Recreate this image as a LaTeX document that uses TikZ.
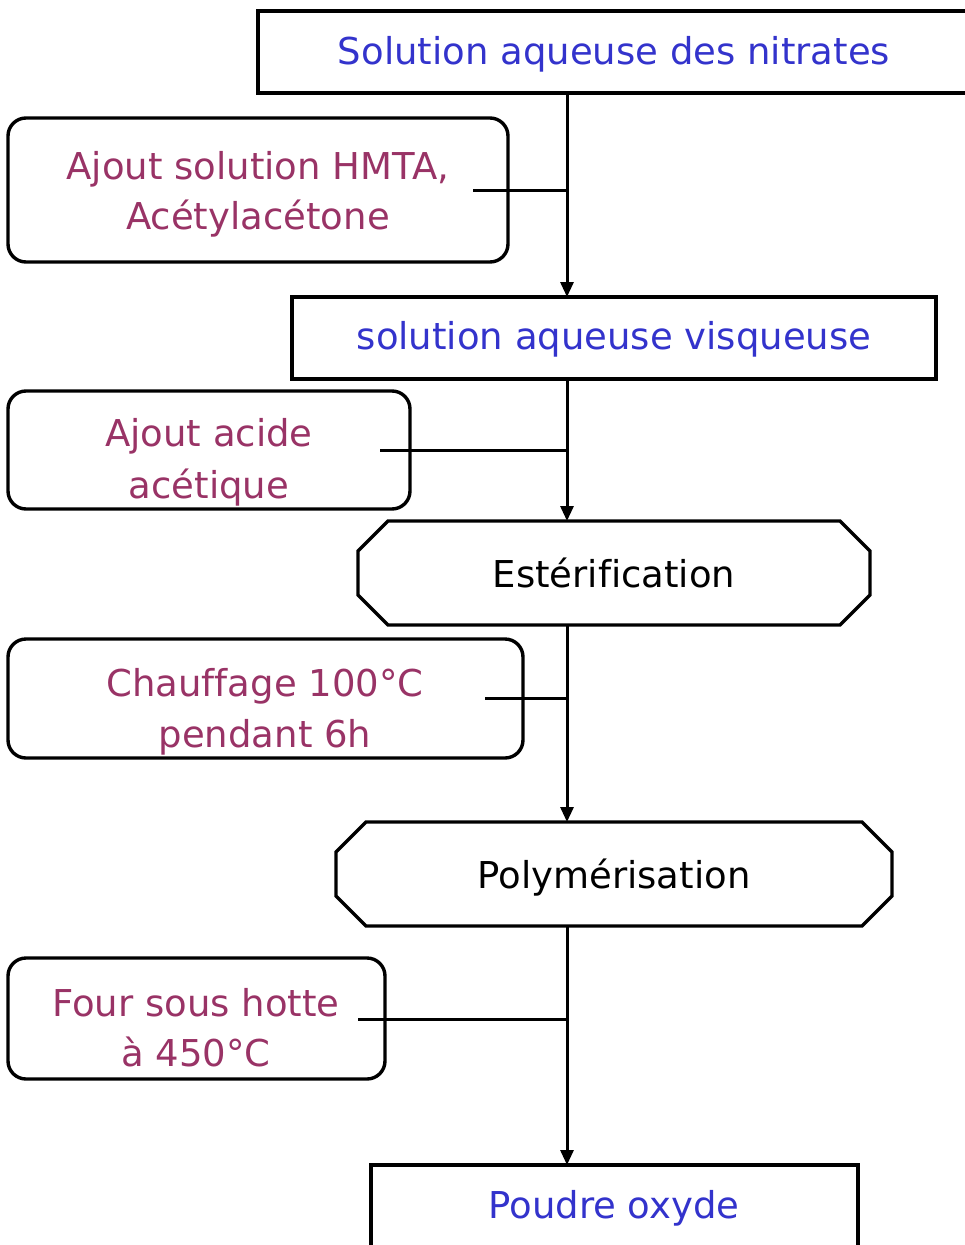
\documentclass[tikz,border=0pt]{standalone}
\usepackage{fontspec}
\setmainfont{DejaVu Sans}[Ligatures=NoCommon]
\usetikzlibrary{arrows.meta}
\definecolor{tblue}{HTML}{3333CC}
\definecolor{tmag}{HTML}{993366}
\begin{document}
\begin{tikzpicture}[x=1pt,y=-1pt,
  every node/.style={inner sep=0pt, outer sep=0pt},
  border/.style={line width=3.4pt, line join=miter},
  sqbox/.style={draw, border, rectangle},
  rbox/.style={draw, border, rectangle, rounded corners=18pt},
  shell/.style={rectangle, draw=none},
  conn/.style={line width=3pt},
  arr/.style={line width=3pt, -{Triangle[width=13pt,length=15pt]}},
  txt/.style={anchor=base, font=\fontsize{37}{44}\selectfont},
  bluetxt/.style={txt, text=tblue},
  magtxt/.style={txt, text=tmag},
  blktxt/.style={txt, text=black}
]
\useasboundingbox (0,0) rectangle (965,1245);
\clip (0,0) rectangle (965,1245);
\coordinate (axis) at (567,0);

% main boxes
\node[sqbox, minimum width=717pt, minimum height=82pt] (b1) at (616.5,52) {};
\node[sqbox, minimum width=644pt, minimum height=82pt] (b2) at (614,338) {};
\node[sqbox, minimum width=487pt, minimum height=100pt] (b3) at (614.5,1215) {};

% octagons
\node[shell, minimum width=512pt, minimum height=104pt] (o1) at (614,573) {};
\node[shell, minimum width=556pt, minimum height=104pt] (o2) at (614,874) {};
\foreach \o in {o1,o2}{
  \draw[border] ([xshift=30pt]\o.north west) -- ([xshift=-30pt]\o.north east)
    -- ([yshift=-30pt]\o.north east) -- ([yshift=30pt]\o.south east)
    -- ([xshift=-30pt]\o.south east) -- ([xshift=30pt]\o.south west)
    -- ([yshift=30pt]\o.south west) -- ([yshift=-30pt]\o.north west) -- cycle;
}

% side rounded boxes
\node[rbox, minimum width=500pt, minimum height=144pt] (r1) at (258,190) {};
\node[rbox, minimum width=402pt, minimum height=118pt] (r2) at (209,450) {};
\node[rbox, minimum width=515pt, minimum height=119pt] (r3) at (265.5,698.5) {};
\node[rbox, minimum width=377pt, minimum height=121pt] (r4) at (196.5,1018.5) {};

% texts
\node[bluetxt] (t1) at (614,64) {Solution aqueuse des nitrates};
\node[bluetxt] (t2) at (614,349) {solution aqueuse visqueuse};
\node[bluetxt] (t3) at (614,1218) {Poudre oxyde};
\node[blktxt] (t4) at (614,587) {Estérification};
\node[blktxt] (t5) at (614,888) {Polymérisation};
\node[magtxt] (s1a) at (258,179) {Ajout solution HMTA,};
\node[magtxt] (s1b) at (258,229) {Acétylacétone};
\node[magtxt] (s2a) at (209,446) {Ajout acide};
\node[magtxt] (s2b) at (209,498) {acétique};
\node[magtxt] (s3a) at (265,696) {Chauffage 100°C};
\node[magtxt] (s3b) at (265,747) {pendant 6h};
\node[magtxt] (s4a) at (196,1016) {Four sous hotte};
\node[magtxt] (s4b) at (196,1066) {à 450°C};

% connector start points
\coordinate (c1) at (473,190);
\coordinate (c2) at (380,450);
\coordinate (c3) at (485,698);
\coordinate (c4) at (358,1019);

% main flow
\draw[arr] (b1.south -| axis) -- (b2.north -| axis);
\draw[arr] (b2.south -| axis) -- (o1.north -| axis);
\draw[arr] (o1.south -| axis) -- (o2.north -| axis);
\draw[arr] (o2.south -| axis) -- (b3.north -| axis);

% side inputs
\draw[conn] (c1) -- (c1 -| axis);
\draw[conn] (c2) -- (c2 -| axis);
\draw[conn] (c3) -- (c3 -| axis);
\draw[conn] (c4) -- (c4 -| axis);
\end{tikzpicture}
\end{document}
